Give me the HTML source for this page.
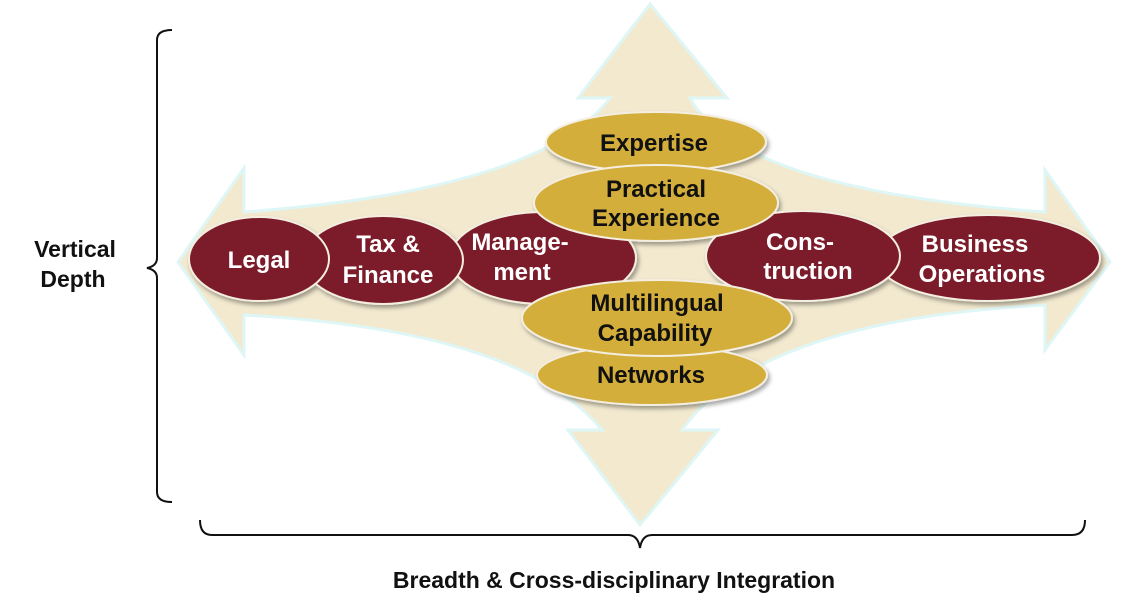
<!DOCTYPE html>
<html><head><style>
body{margin:0;background:#fff;}
svg text{font-family:"Liberation Sans",sans-serif;font-weight:bold;text-anchor:middle;}
</style></head><body>
<svg width="1127" height="610" viewBox="0 0 1127 610" xmlns="http://www.w3.org/2000/svg">
<defs>
<filter id="sh" x="-20%" y="-20%" width="140%" height="150%"><feDropShadow dx="2" dy="3" stdDeviation="2" flood-color="#000" flood-opacity="0.35"/></filter>
</defs>
<path d="M650,4 L727,98 L690,98 Q740,190 1045,212 L1045,170 L1110,262 L1045,350 L1045,305 Q760,320 682,430 L718,430 L640,525 L568,430 L602,430 Q520,330 244,315 L244,355 L178,262 L244,168 L244,212 Q540,190 610,98 L578,98 Z" fill="#f2e9cf" stroke="#dff6f6" stroke-width="3"/>
<g stroke="#f4eee0" stroke-width="2" filter="url(#sh)">
<ellipse cx="988" cy="258" rx="112" ry="43" fill="#7b1c2c"/>
<ellipse cx="803" cy="256" rx="97" ry="45" fill="#7b1c2c"/>
<ellipse cx="543" cy="258" rx="93" ry="46" fill="#7b1c2c"/>
<ellipse cx="383" cy="260" rx="80" ry="44" fill="#7b1c2c"/>
<ellipse cx="259" cy="259" rx="70" ry="42" fill="#7b1c2c"/>
<ellipse cx="656" cy="142" rx="110" ry="30" fill="#d4ae3a"/>
<ellipse cx="656" cy="203" rx="122" ry="38" fill="#d4ae3a"/>
<ellipse cx="652" cy="375" rx="115" ry="30" fill="#d4ae3a"/>
<ellipse cx="657" cy="318" rx="135" ry="38" fill="#d4ae3a"/>
</g>
<g fill="#fff" font-size="24">
<text x="259" y="268">Legal</text>
<text x="388" y="252">Tax &amp;</text>
<text x="388" y="283">Finance</text>
<text x="520" y="250">Manage-</text>
<text x="522" y="280">ment</text>
<text x="800" y="250">Cons-</text>
<text x="808" y="279">truction</text>
<text x="975" y="252">Business</text>
<text x="982" y="282">Operations</text>
</g>
<g fill="#111" font-size="24">
<text x="654" y="151">Expertise</text>
<text x="656" y="197">Practical</text>
<text x="656" y="226">Experience</text>
<text x="657" y="311">Multilingual</text>
<text x="655" y="341">Capability</text>
<text x="651" y="383">Networks</text>
</g>
<path d="M172,30 Q157,30 157,40 L157,258 Q157,266 147,268 Q157,270 157,278 L157,492 Q157,502 172,502" fill="none" stroke="#111" stroke-width="2"/>
<path d="M200,520 Q200,535 212,535 L628,535 Q638,535 640,548 Q642,535 652,535 L1072,535 Q1085,535 1085,520" fill="none" stroke="#111" stroke-width="2"/>
<g fill="#111" font-size="23">
<text x="75" y="257">Vertical</text>
<text x="73" y="287">Depth</text>
<text x="614" y="588">Breadth &amp; Cross-disciplinary Integration</text>
</g>
</svg>
</body></html>
